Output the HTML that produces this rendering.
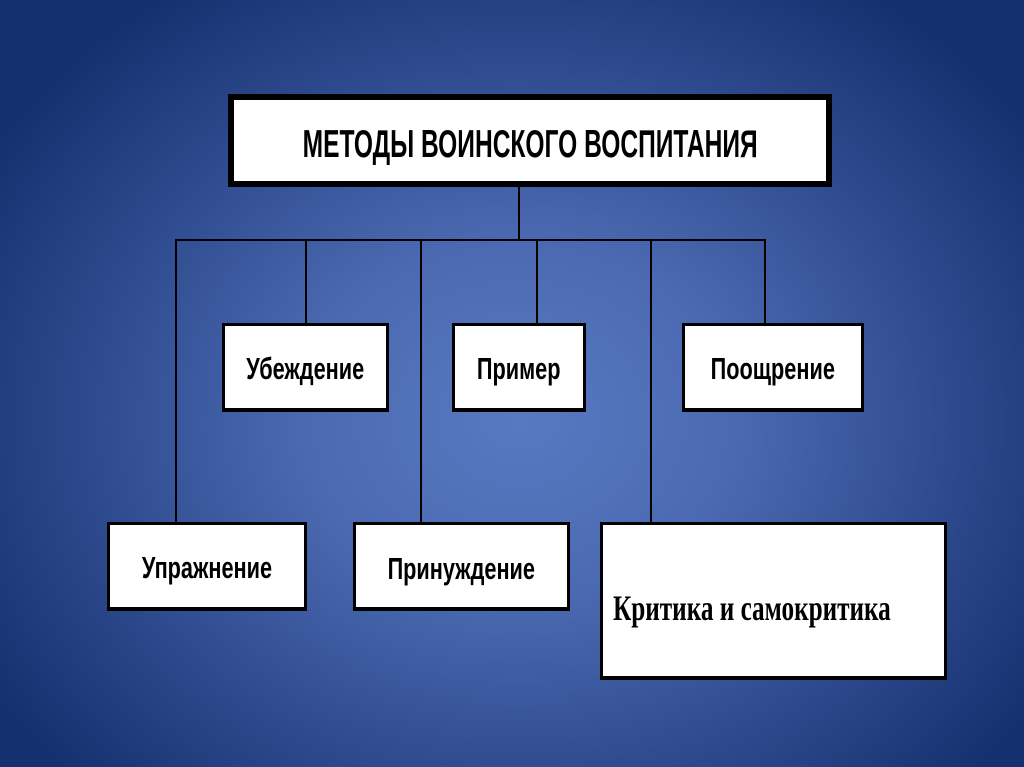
<!DOCTYPE html>
<html><head><meta charset="utf-8"><style>
html,body{margin:0;padding:0}
body{width:1024px;height:767px;position:relative;overflow:hidden;
background:radial-gradient(ellipse 620px 520px at 520px 420px,#5879c2 0%,#4a69b0 35%,#2e4a8e 70%,#14306e 100%);}
.b{position:absolute;background:#fff;border:3px solid #000;border-bottom-width:4px;box-sizing:border-box;
display:flex;align-items:center;justify-content:center;font-family:"Liberation Sans",sans-serif;font-weight:bold;color:#000;}
.b span{display:inline-block;transform:scaleX(0.7);white-space:nowrap;position:relative;top:2px}
.l{position:absolute;background:#000}
</style></head><body>
<div class="b" style="left:228px;top:94px;width:604px;height:93px;border-width:6px;font-size:39px"><span style="transform:scaleX(0.63);top:4px">МЕТОДЫ ВОИНСКОГО ВОСПИТАНИЯ</span></div>
<div class="l" style="left:518px;top:187px;width:2px;height:54px"></div>
<div class="l" style="left:175px;top:239px;width:591px;height:2px"></div>
<div class="l" style="left:175px;top:240px;width:2px;height:283px"></div>
<div class="l" style="left:305px;top:240px;width:2px;height:84px"></div>
<div class="l" style="left:420px;top:240px;width:2px;height:283px"></div>
<div class="l" style="left:536px;top:240px;width:2px;height:84px"></div>
<div class="l" style="left:650px;top:240px;width:2px;height:283px"></div>
<div class="l" style="left:764px;top:240px;width:2px;height:84px"></div>
<div class="b" style="left:222px;top:323px;width:167px;height:89px;font-size:31px"><span>Убеждение</span></div>
<div class="b" style="left:452px;top:323px;width:134px;height:89px;font-size:31px"><span>Пример</span></div>
<div class="b" style="left:682px;top:323px;width:182px;height:89px;font-size:31px"><span>Поощрение</span></div>
<div class="b" style="left:107px;top:522px;width:200px;height:89px;font-size:31px"><span>Упражнение</span></div>
<div class="b" style="left:353px;top:522px;width:217px;height:89px;font-size:31px;align-items:flex-start;padding-top:24px"><span>Принуждение</span></div>
<div class="b" style="left:600px;top:522px;width:347px;height:158px;font-size:36px;font-family:'Liberation Serif',serif;justify-content:flex-start;padding-left:10px;align-items:flex-start;padding-top:60px"><span style="transform:scaleX(0.7);transform-origin:left">Критика и самокритика</span></div>
</body></html>
